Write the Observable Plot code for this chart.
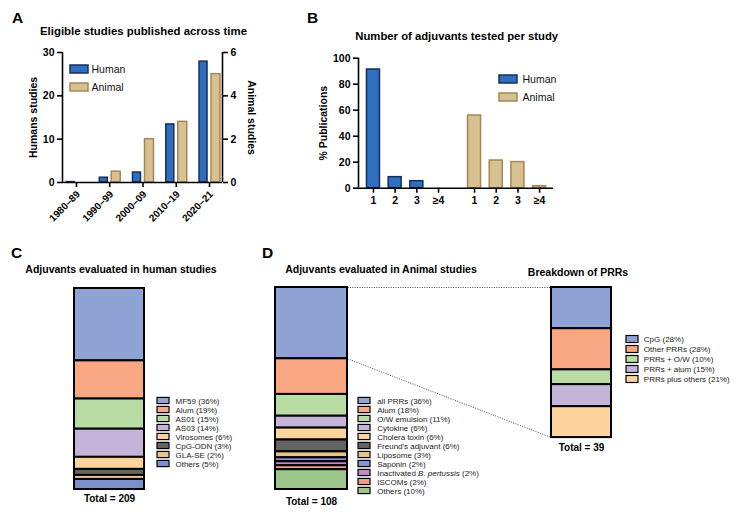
<!DOCTYPE html>
<html><head><meta charset="utf-8">
<script src="https://cdn.jsdelivr.net/npm/d3@7"></script>
<script src="https://cdn.jsdelivr.net/npm/@observablehq/plot@0.6"></script>
<style>
body{margin:0;background:#fff;}
#fig{position:relative;width:740px;height:515px;background:#fff;overflow:hidden;font-family:"Liberation Sans",Arial,Helvetica,sans-serif;color:#000;}
#fig svg{position:absolute;overflow:visible;}
.t{position:absolute;white-space:nowrap;font-weight:bold;}
</style></head><body><div id="fig"></div>
<script>
// ---------------- data ----------------
// Panel A
const decades = ["1980–89", "1990–99", "2000–09", "2010–19", "2020–21"];
const humanStudies = [0.1, 1.1, 2.3, 13.4, 27.9];   // left axis
const animalStudies = [0, 0.5, 2.0, 2.8, 5.0];      // right axis
// Panel B
const adjuvantCounts = ["1", "2", "3", "≥4"];
const humanPct = [91.3, 8.5, 5.4, 0];
const animalPct = [55.9, 21.3, 20.1, 1.5];
// Panel C
const cNames = ["MF59", "Alum", "AS01", "AS03", "Virosomes", "CpG-ODN", "GLA-SE", "Others"];
const cPct = [36, 19, 15, 14, 6, 3, 2, 5];
const cColors = ["#8fa4d4", "#f9a682", "#b9dca5", "#c4b4d9", "#fdd49b", "#636363", "#e8c48c", "#7c8fca"];
const cTotal = 209;
// Panel D
const dNames = ["all PRRs", "Alum", "O/W emulsion", "Cytokine", "Cholera toxin", "Freund's adjuvant", "Liposome", "Saponin", "Inactivated B. pertussis", "ISCOMs", "Others"];
const dPct = [36, 18, 11, 6, 6, 6, 3, 2, 2, 2, 10];
const dColors = ["#8fa4d4", "#f9a682", "#b9dca5", "#c4b4d9", "#fdd49b", "#636363", "#e8c48c", "#8a93d2", "#c28cc0", "#f09a88", "#9cc68b"];
const dTotal = 108;
const prrNames = ["CpG", "Other PRRs", "PRRs + O/W", "PRRs + alum", "PRRs plus others"];
const prrPct = [28, 28, 10, 15, 21];
const prrColors = ["#8fa4d4", "#f9a682", "#b9dca5", "#c4b4d9", "#fdd49b"];
const prrTotal = 39;

// ---------------- styles ----------------
const FONT = '"Liberation Sans", Arial, Helvetica, sans-serif';
const HUMAN_FILL = "#2f6dbf", HUMAN_STROKE = "#15305c";
const ANIMAL_FILL = "#d9c091", ANIMAL_STROKE = "#a08957";
const fig = document.getElementById("fig");
const baseStyle = (extra = {}) => ({fontFamily: FONT, fontSize: "10.5px", fontWeight: "bold", background: "transparent", color: "#000", ...extra});

function place(el, left, top) { el.style.left = left + "px"; el.style.top = top + "px"; fig.appendChild(el); return el; }
function addText(txt, x, baseline, size, anchor = "start") {
  const d = document.createElement("div");
  d.className = "t"; d.textContent = txt;
  d.style.fontSize = size + "px"; d.style.lineHeight = size + "px";
  if (anchor === "middle") d.style.transform = "translateX(-50%)";
  place(d, x, baseline - 0.85 * size);
}
function legendPlot(items, {rowH, sw, inset, textDx, fontSize, width, weight = "normal", color = "#222", strokeWidth = 1.2}) {
  return Plot.plot({
    width, height: items.length * rowH, margin: 0,
    style: baseStyle({fontWeight: weight}),
    x: {domain: ["s"], range: sw, padding: 0, axis: null},
    y: {domain: items.map(d => d.label), padding: 0, axis: null},
    color: {type: "identity"},
    marks: [
      Plot.cell(items, {x: () => "s", y: "label", fill: "color", stroke: "stroke", strokeWidth, insetTop: inset, insetBottom: inset}),
      Plot.text(items, {y: "label", text: "label", frameAnchor: "left", dx: textDx, textAnchor: "start", fontSize, fill: color})
    ]
  });
}
const seriesLegend = [
  {label: "Human", color: HUMAN_FILL, stroke: HUMAN_STROKE},
  {label: "Animal", color: ANIMAL_FILL, stroke: ANIMAL_STROKE}
];

// ---------------- Panel A ----------------
const aData = decades.map((d, i) => ({i, decade: d, human: humanStudies[i], animal: animalStudies[i]}));
const AX = [-0.42, 4.39];
const A_RATIO = 30 / 6; // left-axis units per right-axis unit
const plotA = Plot.plot({
  width: 270, height: 185, marginLeft: 62, marginRight: 48, marginTop: 12, marginBottom: 43,
  style: baseStyle(),
  x: {domain: AX}, y: {domain: [0, 30]},
  marks: [
    Plot.rect(aData.filter(d => d.human > 0), {x1: d => d.i - 0.30, x2: d => d.i - 0.06, y1: 0, y2: "human", fill: HUMAN_FILL, stroke: HUMAN_STROKE, strokeWidth: 1.5}),
    Plot.rect(aData.filter(d => d.animal > 0), {x1: d => d.i + 0.06, x2: d => d.i + 0.33, y1: 0, y2: d => d.animal * A_RATIO, fill: ANIMAL_FILL, stroke: ANIMAL_STROKE, strokeWidth: 1.5}),
    Plot.ruleY([0], {strokeWidth: 1.6}),
    Plot.ruleX(AX, {strokeWidth: 1.6}),
    Plot.axisY({anchor: "left", ticks: [0, 10, 20, 30], tickSize: 5, strokeWidth: 1.6, tickPadding: 3, label: null}),
    Plot.axisY({anchor: "right", ticks: [0, 10, 20, 30], tickFormat: d => d / A_RATIO, tickSize: 5, strokeWidth: 1.6, tickPadding: 3, label: null}),
    Plot.axisX({anchor: "bottom", ticks: aData.map(d => d.i), tickFormat: () => "", tickSize: 5, strokeWidth: 1.6, label: null}),
    Plot.text(aData, {x: "i", y: 0, text: "decade", rotate: -45, textAnchor: "end", dx: 2, dy: 10, fontSize: 10}),
    Plot.text(["Humans studies"], {text: d => d, frameAnchor: "left", rotate: -90, dx: -29, textAnchor: "middle", fontSize: 10.5}),
    Plot.text(["Animal studies"], {text: d => d, frameAnchor: "right", rotate: 90, dx: 29, textAnchor: "middle", fontSize: 10.5})
  ]
});
place(plotA, 0, 40);
place(legendPlot(seriesLegend, {rowH: 18, sw: [1, 19], inset: 5, textDx: 22, fontSize: 10.5, width: 90, color: "#111", strokeWidth: 1.5}), 69, 60);

// ---------------- Panel B ----------------
const B_ANIMAL_SHIFT = 4.66;
const bData = [
  ...adjuvantCounts.map((c, i) => ({pos: i, label: c, v: humanPct[i], fill: HUMAN_FILL, stroke: HUMAN_STROKE})),
  ...adjuvantCounts.map((c, i) => ({pos: i + B_ANIMAL_SHIFT, label: c, v: animalPct[i], fill: ANIMAL_FILL, stroke: ANIMAL_STROKE}))
];
const bLabel = new Map(bData.map(d => [d.pos, d.label]));
const BX = [-0.69, 8.3];
const plotB = Plot.plot({
  width: 280, height: 180, marginLeft: 68, marginRight: 17, marginTop: 17.7, marginBottom: 32.3,
  style: baseStyle(),
  x: {domain: BX}, y: {domain: [0, 100]},
  color: {type: "identity"},
  marks: [
    Plot.rect(bData.filter(d => d.v > 0), {x1: d => d.pos - 0.3, x2: d => d.pos + 0.3, y1: 0, y2: "v", fill: "fill", stroke: "stroke", strokeWidth: 1.5}),
    Plot.ruleY([0], {strokeWidth: 1.6}),
    Plot.ruleX([BX[0]], {strokeWidth: 1.6}),
    Plot.axisY({anchor: "left", ticks: [0, 20, 40, 60, 80, 100], tickSize: 5, strokeWidth: 1.6, tickPadding: 3, label: null}),
    Plot.axisX({anchor: "bottom", ticks: bData.map(d => d.pos), tickFormat: d => bLabel.get(d), tickSize: 5, strokeWidth: 1.6, tickPadding: 3, label: null}),
    Plot.text(["% Publications"], {text: d => d, frameAnchor: "left", rotate: -90, dx: -35, textAnchor: "middle", fontSize: 10.5})
  ]
});
place(plotB, 290, 40);
place(legendPlot(seriesLegend, {rowH: 18, sw: [1, 19], inset: 5, textDx: 24, fontSize: 10.5, width: 90, color: "#111", strokeWidth: 1.5}), 498, 70);

// ---------------- Panel C ----------------
const cItems = cNames.map((n, i) => ({name: n, pct: cPct[i], color: cColors[i], stroke: "#000", label: `${n} (${cPct[i]}%)`}));
const plotC = Plot.plot({
  width: 74, height: 223, marginTop: 2, marginLeft: 2, marginRight: 2, marginBottom: 20,
  style: baseStyle(),
  x: {axis: null, padding: 0, domain: ["C"]}, y: {axis: null, domain: [0, 1], reverse: true},
  color: {type: "identity"},
  marks: [
    Plot.barY(cItems, Plot.stackY({x: () => "C", y: "pct", fill: "color", stroke: "#000", strokeWidth: 2, offset: "normalize"})),
    Plot.text([`Total = ${cTotal}`], {text: d => d, frameAnchor: "bottom", dy: 12, fontSize: 10})
  ]
});
place(plotC, 72, 286);
place(legendPlot(cItems, {rowH: 9.71, sw: [1, 13], inset: 1.4, textDx: 19, fontSize: 8, width: 110}), 156, 392.8);

// ---------------- Panel D ----------------
function stackFractions(names, pct, colors) {
  const s = d3.sum(pct); let acc = 0;
  return names.map((n, i) => ({name: n, pct: pct[i], color: colors[i], stroke: "#000", label: `${n} (${pct[i]}%)`, y1: acc / s, y2: (acc += pct[i]) / s}));
}
const dItems = stackFractions(dNames, dPct, dColors);
const prrItems = stackFractions(prrNames, prrPct, prrColors);
const D_LAYOUT = {animalBar: [0, 72], prrBar: [276, 336], prrScale: 0.743};
const prrFrac = dItems[0].y2;
const links = [
  {x1: D_LAYOUT.animalBar[1], y1: 0, x2: D_LAYOUT.prrBar[0], y2: 0},
  {x1: D_LAYOUT.animalBar[1], y1: prrFrac, x2: D_LAYOUT.prrBar[0], y2: D_LAYOUT.prrScale}
];
const plotD = Plot.plot({
  width: 340, height: 224, marginTop: 2, marginLeft: 2, marginRight: 2, marginBottom: 20,
  style: baseStyle(),
  x: {axis: null, domain: [0, 336]}, y: {axis: null, domain: [0, 1], reverse: true},
  color: {type: "identity"},
  marks: [
    Plot.link(links, {x1: "x1", y1: "y1", x2: "x2", y2: "y2", stroke: "#333", strokeWidth: 0.9, strokeDasharray: "1,1.4"}),
    Plot.rect(dItems, {x1: D_LAYOUT.animalBar[0], x2: D_LAYOUT.animalBar[1], y1: "y1", y2: "y2", fill: "color", stroke: "#000", strokeWidth: 2}),
    Plot.rect(prrItems, {x1: D_LAYOUT.prrBar[0], x2: D_LAYOUT.prrBar[1], y1: d => d.y1 * D_LAYOUT.prrScale, y2: d => d.y2 * D_LAYOUT.prrScale, fill: "color", stroke: "#000", strokeWidth: 2}),
    Plot.text([`Total = ${dTotal}`], {text: d => d, x: d3.mean(D_LAYOUT.animalBar), y: 1, dy: 12, fontSize: 10}),
    Plot.text([`Total = ${prrTotal}`], {text: d => d, x: d3.mean(D_LAYOUT.prrBar), y: D_LAYOUT.prrScale, dy: 10, fontSize: 10})
  ]
});
place(plotD, 273, 285);
const legD = legendPlot(dItems, {rowH: 9.73, sw: [1, 13], inset: 1.4, textDx: 19.7, fontSize: 8, width: 160});
legD.querySelectorAll("text").forEach(t => {
  const s = t.textContent, it = "B. pertussis", k = s.indexOf(it);
  if (k >= 0) {
    t.textContent = "";
    const ns = "http://www.w3.org/2000/svg";
    [[s.slice(0, k), null], [it, "italic"], [s.slice(k + it.length), null]].forEach(([str, st]) => {
      const ts = document.createElementNS(ns, "tspan"); ts.textContent = str;
      if (st) ts.setAttribute("font-style", st);
      t.appendChild(ts);
    });
  }
});
place(legD, 357, 391.8);
place(legendPlot(prrItems, {rowH: 10, sw: [1, 13], inset: 1.5, textDx: 18.3, fontSize: 8, width: 115}), 625, 334);

// ---------------- titles ----------------
addText("A", 12, 23, 15.5);
addText("Eligible studies published across time", 143.5, 36, 11.4, "middle");
addText("B", 307, 23, 15.5);
addText("Number of adjuvants tested per study", 456.7, 40.5, 11.3, "middle");
addText("C", 11, 258, 15.5);
addText("Adjuvants evaluated in human studies", 121, 272.5, 10.5, "middle");
addText("D", 262, 258, 15.5);
addText("Adjuvants evaluated in Animal studies", 381, 272.5, 10.5, "middle");
addText("Breakdown of PRRs", 578, 276, 10.5, "middle");
</script></body></html>
